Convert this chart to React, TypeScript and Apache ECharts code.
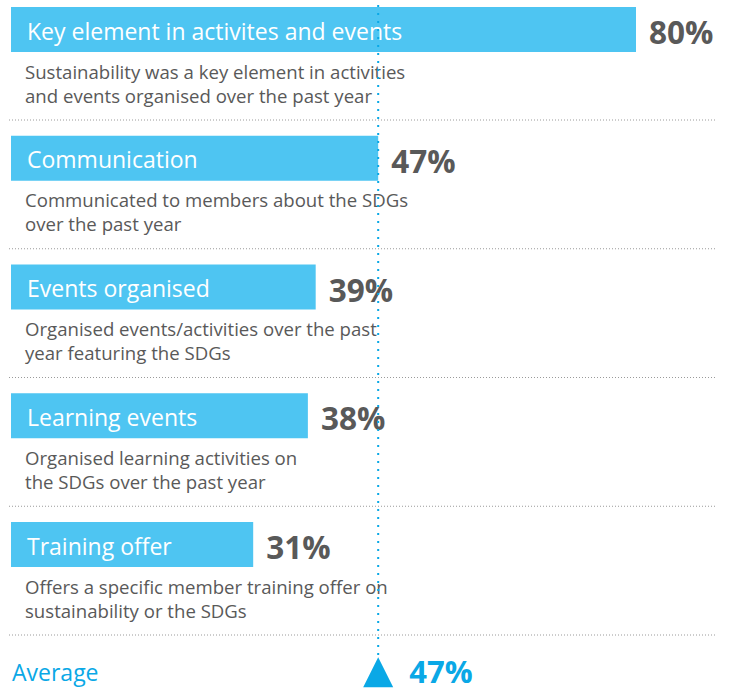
import React, { useEffect, useRef } from "react";
import * as echarts from "echarts";

const categories = [
  "Key element in activites and events",
  "Communication",
  "Events organised",
  "Learning events",
  "Training offer",
];
const values = [80, 47, 39, 38, 31];
const descriptions = [
  ["Sustainability was a key element in activities", "and events organised over the past year"],
  ["Communicated to members about the SDGs", "over the past year"],
  ["Organised events/activities over the past", "year featuring the SDGs"],
  ["Organised learning activities on", "the SDGs over the past year"],
  ["Offers a specific member training offer on", "sustainability or the SDGs"],
];
const averageLabel = "Average";
const averageValue = 47;

const FONT = "'Open Sans', 'Noto Sans', sans-serif";
const BAR_COLOR = "#4EC5F2";
const AVG_COLOR = "#0AA8E6";
const GRAY = "#595959";

export default function App() {
  const ref = useRef<HTMLDivElement>(null);

  useEffect(() => {
    if (!ref.current) return;
    const chart = echarts.init(ref.current, undefined, { renderer: "svg" });
    const yCats = [...categories, averageLabel];

    const option: any = {
      animation: false,
      backgroundColor: "#ffffff",
      grid: { left: 11, right: 14.875, top: 29.5, bottom: 14.75, containLabel: false },
      xAxis: {
        type: "value",
        min: 0,
        max: 90,
        show: false,
        splitLine: { show: false },
      },
      yAxis: {
        type: "category",
        data: yCats,
        inverse: true,
        boundaryGap: false,
        show: false,
      },
      series: [
        {
          type: "bar",
          data: [...values, "-"],
          barWidth: 45,
          clip: false,
          z: 2,
          itemStyle: { color: BAR_COLOR },
          label: {
            show: true,
            position: "right",
            distance: 13,
            formatter: "{c}%",
            fontFamily: FONT,
            fontSize: 31.5,
            fontWeight: "bold",
            color: GRAY,
            offset: [0, 2],
          },
        },
        {
          type: "custom",
          clip: false,
          z: 3,
          data: categories.map((c, i) => [0, c, i]),
          renderItem: (params: any, api: any) => {
            const i = params.dataIndex;
            const p = api.coord([0, categories[i]]);
            const x0 = p[0];
            const cy = p[1];
            return {
              type: "group",
              children: [
                {
                  type: "text",
                  style: {
                    text: categories[i],
                    x: x0 + 16,
                    y: cy + 1,
                    verticalAlign: "middle",
                    fontFamily: FONT,
                    fontSize: 23,
                    fill: "#ffffff",
                  },
                },
                {
                  type: "text",
                  style: {
                    text: descriptions[i][0],
                    x: x0 + 14,
                    y: cy + 41.5,
                    verticalAlign: "middle",
                    fontFamily: FONT,
                    fontSize: 18.6,
                    fill: GRAY,
                  },
                },
                {
                  type: "text",
                  style: {
                    text: descriptions[i][1],
                    x: x0 + 14,
                    y: cy + 65.5,
                    verticalAlign: "middle",
                    fontFamily: FONT,
                    fontSize: 18.6,
                    fill: GRAY,
                  },
                },
                {
                  type: "line",
                  shape: { x1: x0 - 2, y1: cy + 90.5, x2: 716, y2: cy + 90.5 },
                  style: { stroke: "#9A9A9A", lineWidth: 1, lineDash: [1, 2] },
                },
              ],
            };
          },
        },
        {
          type: "custom",
          clip: false,
          z: 5,
          data: [[averageValue, averageLabel]],
          renderItem: (params: any, api: any) => {
            const p = api.coord([averageValue, averageLabel]);
            const top = api.coord([averageValue, categories[0]])[1] - 24.5;
            const left = api.coord([0, averageLabel])[0];
            const cx = p[0];
            const cy = p[1];
            return {
              type: "group",
              children: [
                {
                  type: "line",
                  shape: { x1: cx, y1: top, x2: cx, y2: cy - 17 },
                  style: { stroke: AVG_COLOR, lineWidth: 2, lineDash: [2, 6] },
                },
                {
                  type: "polygon",
                  shape: {
                    points: [
                      [cx, cy - 16],
                      [cx - 15, cy + 14],
                      [cx + 15, cy + 14],
                    ],
                  },
                  style: { fill: AVG_COLOR },
                },
                {
                  type: "text",
                  style: {
                    text: averageLabel,
                    x: left + 1,
                    y: cy - 1,
                    verticalAlign: "middle",
                    fontFamily: FONT,
                    fontSize: 23,
                    fill: AVG_COLOR,
                  },
                },
                {
                  type: "text",
                  style: {
                    text: averageValue + "%",
                    x: cx + 31,
                    y: cy - 2,
                    verticalAlign: "middle",
                    fontFamily: FONT,
                    fontSize: 31,
                    fontWeight: "bold",
                    fill: AVG_COLOR,
                  },
                },
              ],
            };
          },
        },
      ],
    };

    chart.setOption(option);
    return () => chart.dispose();
  }, []);

  return (
    <div
      ref={ref}
      style={{ position: "fixed", left: 0, top: 0, width: 729, height: 688 }}
    />
  );
}
